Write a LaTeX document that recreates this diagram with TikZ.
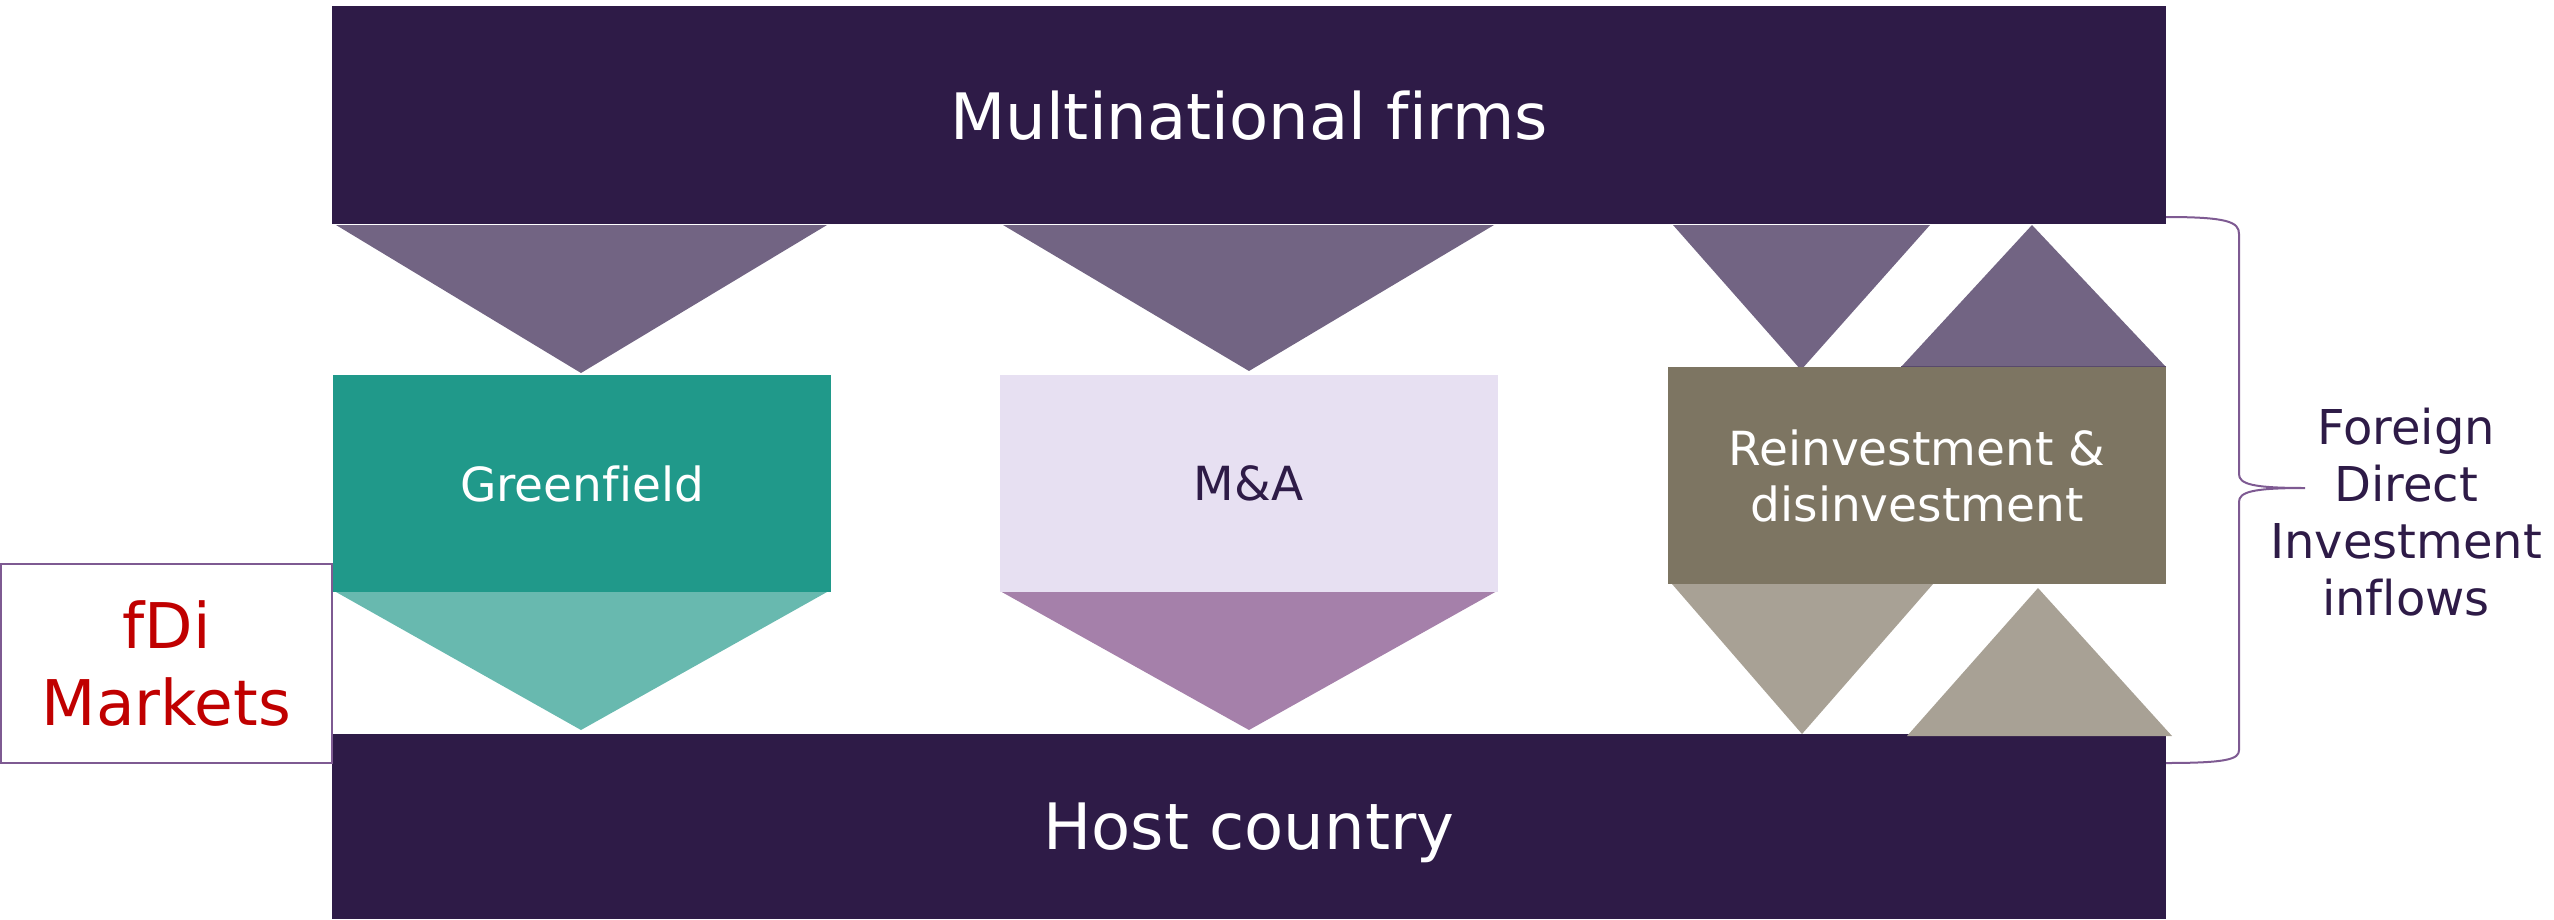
\documentclass[tikz,border=0pt]{standalone}
\usepackage{fontspec}
\setmainfont{DejaVu Sans}[Ligatures=NoCommon]
\usetikzlibrary{calc}

\definecolor{darkplum}{HTML}{2E1B47}
\definecolor{greyplum}{HTML}{726483}
\definecolor{teal}{HTML}{20998A}
\definecolor{lightteal}{HTML}{68B9AF}
\definecolor{lavender}{HTML}{E7E0F2}
\definecolor{mauve}{HTML}{A580AA}
\definecolor{taupe}{HTML}{7D7562}
\definecolor{lighttaupe}{HTML}{A8A195}
\definecolor{bracepurple}{HTML}{7E5A92}
\definecolor{fdired}{HTML}{C00000}

\begin{document}
\begin{tikzpicture}[x=1pt,y=-1pt,
  bar/.style={fill=darkplum,minimum width=1834pt,text=white,inner sep=0pt,
    text depth=0pt,font=\fontsize{64}{77}\selectfont},
  box/.style={minimum width=498pt,minimum height=217pt,inner sep=0pt,align=center,
    font=\fontsize{47}{56}\selectfont}]

\useasboundingbox (0,0) rectangle (2554,919);

% Top and bottom bars
\node[bar,minimum height=218pt] (firms) at (1249,115) {Multinational firms};
\node[bar,minimum height=185pt] (host) at (1249,826.5) {Host country};

% Vertices of the flow triangles
\coordinate (G1) at (336,225);  \coordinate (G2) at (827,225);  \coordinate (G3) at (581,373);
\coordinate (G4) at (336,592);  \coordinate (G5) at (827,592);  \coordinate (G6) at (581,730);
\coordinate (M1) at (1003,225); \coordinate (M2) at (1494,225); \coordinate (M3) at (1249,371);
\coordinate (M4) at (1000,591); \coordinate (M5) at (1497,591); \coordinate (M6) at (1249,730);
\coordinate (R1) at (1673,225); \coordinate (R2) at (1930,225); \coordinate (R3) at (1801,370);
\coordinate (R4) at (1901,367); \coordinate (R5) at (2166,367); \coordinate (R6) at (2032,225);
\coordinate (R7) at (1672,584); \coordinate (R8) at (1933,584); \coordinate (R9) at (1802,734);
\coordinate (R10) at (1907,736); \coordinate (R11) at (2172,736); \coordinate (R12) at (2038,588);

% Triangles below the firms bar
\fill[greyplum] (G1) -- (G2) -- (G3) -- cycle;
\fill[greyplum] (M1) -- (M2) -- (M3) -- cycle;
\fill[greyplum] (R1) -- (R2) -- (R3) -- cycle;
\fill[greyplum] (R4) -- (R5) -- (R6) -- cycle;
\draw[darkplum!80,line width=2pt] (R4) -- (R5);

% Triangles above the host bar
\fill[lightteal] (G4) -- (G5) -- (G6) -- cycle;
\fill[mauve] (M4) -- (M5) -- (M6) -- cycle;
\fill[lighttaupe] (R7) -- (R8) -- (R9) -- cycle;
\fill[lighttaupe] (R10) -- (R11) -- (R12) -- cycle;

% Entry modes
\node[box,fill=teal,text=white] (green) at (582,483.5) {Greenfield};
\node[box,fill=lavender,text=darkplum] (ma) at (1248.5,483) {M\&A};
\node[box,fill=taupe,text=white] (reinv) at (1917,475.5) {Reinvestment \&\\disinvestment};

% Data source
\node[draw=bracepurple,line width=2pt,minimum width=331pt,minimum height=199pt,
  inner sep=0pt,align=center,text=fdired,font=\fontsize{63}{77}\selectfont]
  (fdi) at (166.5,663.5) {fDi\\Markets};

% Brace and its label
\coordinate (bt) at (2166,217);
\coordinate (bb) at (2166,763);
\draw[bracepurple,line width=2pt] (bt) .. controls (2228,217) and (2239,222) .. (2239,234)
  -- (2239,474) .. controls (2239,484) and (2252,488) .. (2305,488)
  .. controls (2252,488) and (2239,492) .. (2239,502)
  -- (2239,750) .. controls (2239,759) and (2228,763) .. (bb);
\node[align=center,text=darkplum,font=\fontsize{48}{57}\selectfont]
  (fdiin) at (2406,512) {Foreign\\Direct\\Investment\\inflows};

\end{tikzpicture}
\end{document}
